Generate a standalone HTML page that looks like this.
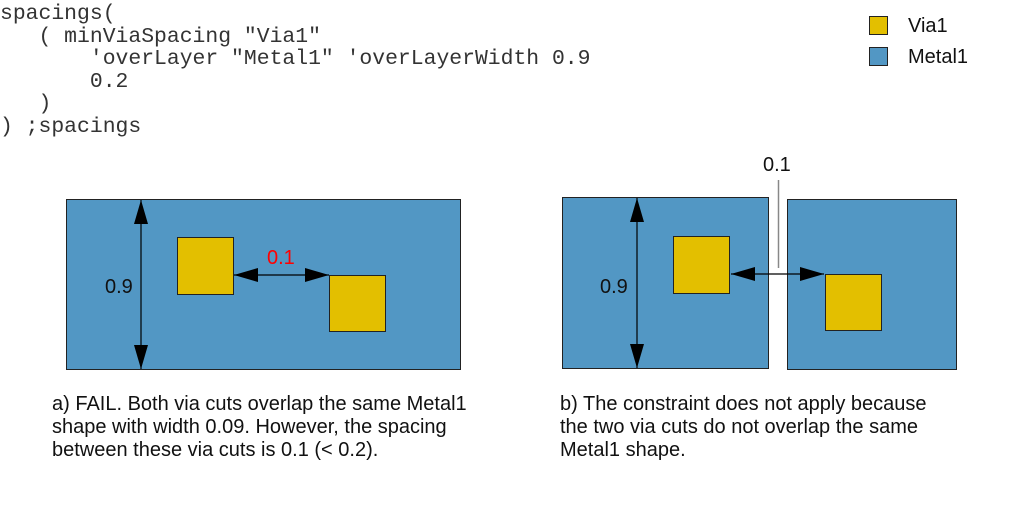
<!DOCTYPE html>
<html><head><meta charset="utf-8"><style>
body{margin:0;width:1013px;height:505px;background:#fff;position:relative;overflow:hidden}
pre{position:absolute;left:0;top:0;margin:0;font-family:"Liberation Mono",monospace;font-size:21.4px;line-height:22.6px;color:#333}
.cap{position:absolute;font-family:"Liberation Sans",sans-serif;font-size:20px;line-height:23px;color:#111}
</style></head><body>
<pre style="top:3px">spacings(
   ( minViaSpacing "Via1"
       'overLayer "Metal1" 'overLayerWidth 0.9
       0.2
   )
) ;spacings</pre>
<svg width="1013" height="505" style="position:absolute;left:0;top:0">
<defs>
<marker id="b" markerWidth="24" markerHeight="14" refX="24" refY="7" orient="auto-start-reverse" markerUnits="userSpaceOnUse">
<path d="M0,0 L24,7 L0,14 z" fill="#000"/></marker>
</defs>
<g stroke="#222" stroke-width="1">
<rect x="869.5" y="16.5" width="18" height="18" fill="#e3bf00"/>
<rect x="869.5" y="47.5" width="18" height="18" fill="#5297c4"/>
<rect x="66.5" y="199.5" width="394" height="170" fill="#5297c4"/>
<rect x="177.5" y="237.5" width="56" height="57" fill="#e3bf00"/>
<rect x="329.5" y="275.5" width="56" height="56" fill="#e3bf00"/>
<rect x="562.5" y="197.5" width="206" height="171" fill="#5297c4"/>
<rect x="787.5" y="199.5" width="169" height="170" fill="#5297c4"/>
<rect x="673.5" y="236.5" width="56" height="57" fill="#e3bf00"/>
<rect x="825.5" y="274.5" width="56" height="56" fill="#e3bf00"/>
</g>
<g stroke="#000" stroke-width="1.2">
<line x1="141" y1="200" x2="141" y2="369" marker-start="url(#b)" marker-end="url(#b)"/>
<line x1="234" y1="275" x2="329" y2="275" marker-start="url(#b)" marker-end="url(#b)"/>
<line x1="637" y1="198" x2="637" y2="368" marker-start="url(#b)" marker-end="url(#b)"/>
<line x1="731" y1="274" x2="824" y2="274" marker-start="url(#b)" marker-end="url(#b)"/>
</g>
<line x1="778.5" y1="180" x2="778.5" y2="268" stroke="#888" stroke-width="1.5"/>
<g font-family="Liberation Sans,sans-serif" font-size="20">
<text x="105" y="293" fill="#111">0.9</text>
<text x="267" y="264" fill="#f00">0.1</text>
<text x="600" y="293" fill="#111">0.9</text>
<text x="763" y="171" fill="#111">0.1</text>
<text x="908" y="32" fill="#111">Via1</text>
<text x="908" y="63" fill="#111">Metal1</text>
</g>
</svg>
<div class="cap" style="left:52px;top:393px">a) FAIL. Both via cuts overlap the same Metal1<br>shape with width 0.09. However, the spacing<br>between these via cuts is 0.1 (&lt; 0.2).</div>
<div class="cap" style="left:560px;top:393px">b) The constraint does not apply because<br>the two via cuts do not overlap the same<br>Metal1 shape.</div>
</body></html>
